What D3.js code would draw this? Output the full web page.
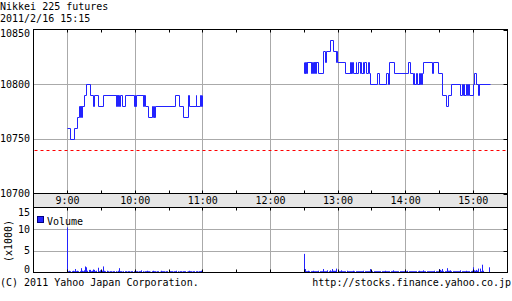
<!DOCTYPE html>
<html>
<head>
<meta charset="utf-8">
<script src="https://cdn.jsdelivr.net/npm/d3@7"></script>
<style>
body { margin: 0; background: #fff; }
svg { display: block; }
text { font-family: "DejaVu Sans Mono", monospace; font-size: 10px; fill: #000; }
</style>
</head>
<body>
<div id="chart"></div>
<script>
// chart data
var titleLines = ["Nikkei 225 futures", "2011/2/16 15:15"];
var footerLeft = "(C) 2011 Yahoo Japan Corporation.";
var footerRight = "http://stocks.finance.yahoo.co.jp";
var priceTicks = [10850, 10800, 10750, 10700];
var volumeTicks = [15, 10, 5, 0];
var prevClose = 10740;
var volumeStart = ["9:00:00", "12:30:00"];

// price change points [time, price]
var morning = [
    ["9:00:00", 10760], ["9:02:45", 10750], ["9:06:30", 10760], ["9:08:30", 10770],
    ["9:10:30", 10780], ["9:11:00", 10770], ["9:11:30", 10780], ["9:12:00", 10770], ["9:12:30", 10780],
    ["9:13:00", 10770], ["9:13:30", 10780],
    ["9:15:00", 10790], ["9:16:30", 10800], ["9:20:30", 10790],
    ["9:23:00", 10780], ["9:24:00", 10790], ["9:27:00", 10780], ["9:31:30", 10790],
    ["9:43:00", 10780], ["9:43:30", 10790], ["9:44:00", 10780], ["9:44:30", 10790], ["9:45:00", 10780],
    ["9:45:30", 10790], ["9:46:00", 10780], ["9:46:30", 10790],
    ["9:49:00", 10780], ["9:51:20", 10790],
    ["9:59:00", 10780], ["10:00:00", 10790], ["10:00:30", 10780], ["10:01:20", 10790],
    ["10:07:10", 10780], ["10:07:40", 10790], ["10:08:10", 10780], ["10:08:40", 10790],
    ["10:09:20", 10780], ["10:11:30", 10770], ["10:15:00", 10780],
    ["10:16:30", 10770], ["10:17:00", 10780], ["10:17:30", 10770], ["10:18:00", 10780],
    ["10:35:20", 10790], ["10:39:00", 10780], ["10:42:40", 10770], ["10:47:00", 10790], ["10:48:00", 10780],
    ["10:54:00", 10790], ["10:54:40", 10780], ["10:58:00", 10790], ["10:59:00", 10780], ["10:59:40", 10790],
    ["11:00:00", 10790]
];
var afternoon = [
    ["12:30:00", 10820], ["12:30:30", 10810], ["12:31:00", 10820], ["12:31:30", 10810], ["12:32:00", 10820],
    ["12:32:30", 10810], ["12:33:00", 10820],
    ["12:36:20", 10810], ["12:36:50", 10820], ["12:37:20", 10810], ["12:37:50", 10820], ["12:38:40", 10810],
    ["12:39:10", 10820], ["12:39:40", 10810], ["12:40:10", 10820], ["12:40:40", 10810], ["12:41:00", 10820],
    ["12:42:30", 10810], ["12:47:00", 10830], ["12:48:30", 10820], ["12:50:00", 10830], ["12:53:00", 10840],
    ["12:56:00", 10830], ["12:58:40", 10820], ["12:59:00", 10830], ["12:59:20", 10820],
    ["13:06:10", 10810], ["13:10:40", 10820], ["13:11:10", 10810], ["13:11:40", 10820], ["13:12:10", 10810],
    ["13:12:50", 10820], ["13:13:20", 10810],
    ["13:16:00", 10820], ["13:16:30", 10810], ["13:18:00", 10820], ["13:19:30", 10810], ["13:20:00", 10820],
    ["13:20:30", 10810], ["13:22:30", 10820], ["13:23:00", 10810], ["13:23:30", 10820], ["13:25:00", 10810],
    ["13:27:00", 10820], ["13:27:30", 10810], ["13:29:00", 10800],
    ["13:34:50", 10810], ["13:36:20", 10800], ["13:42:40", 10810], ["13:44:40", 10800], ["13:45:50", 10820],
    ["13:50:00", 10810], ["14:02:20", 10820], ["14:04:30", 10810],
    ["14:06:50", 10800], ["14:07:30", 10810], ["14:08:00", 10800], ["14:10:00", 10810], ["14:10:30", 10800],
    ["14:12:00", 10810], ["14:12:30", 10800], ["14:13:30", 10810], ["14:14:00", 10800], ["14:15:00", 10810],
    ["14:15:40", 10820], ["14:23:30", 10810], ["14:25:00", 10820], ["14:29:00", 10810],
    ["14:32:40", 10790], ["14:36:40", 10780], ["14:38:10", 10790], ["14:40:50", 10800],
    ["14:48:50", 10790], ["14:50:00", 10800], ["14:51:00", 10790], ["14:52:00", 10800], ["14:52:30", 10790],
    ["14:54:00", 10800], ["14:54:30", 10790], ["14:56:00", 10800], ["14:57:00", 10790], ["15:00:00", 10800],
    ["15:01:30", 10810], ["15:02:30", 10800], ["15:04:30", 10790], ["15:05:30", 10800], ["15:15:00", 10800]
];

// volume per minute (x1000), from 9:00 and from 12:30
var morningVolume = [
    10.4, 0.3, 0.4, 0.3, 0.3, 0.4, 0.3, 0.8, 0.3, 0.4,
    0.3, 0.3, 1.0, 0.4, 0.3, 0.5, 1.4, 1.2, 0.4, 0.6,
    0.6, 0.3, 0.4, 0.7, 0.6, 0.3, 0.4, 1.1, 0.3, 0.5,
    0.3, 0.4, 1.4, 0.4, 0.3, 0.4, 0.3, 0.2, 0.3, 0.3,
    0.2, 0.3, 0.3, 0.3, 0.2, 0.4, 1.0, 0.3, 0.3, 0.2,
    0.3, 0.3, 0.3, 0.2, 0.3, 0.3, 0.2, 0.3, 0.3, 0.3,
    0.4, 0.3, 0.3, 0.2, 0.3, 0.3, 0.5, 0.3, 0.2, 0.3,
    0.3, 0.4, 0.3, 0.3, 0.2, 0.3, 0.4, 0.3, 0.3, 0.2,
    0.3, 0.3, 0.2, 0.4, 0.3, 0.3, 0.3, 0.2, 0.3, 0.3,
    0.2, 0.3, 0.3, 0.3, 0.2, 0.3, 0.3, 0.4, 0.3, 0.2,
    0.3, 0.3, 0.2, 0.3, 0.3, 0.3, 0.2, 0.3, 0.4, 0.3,
    0.3, 0.2, 0.3, 0.3, 0.3, 0.3, 0.2, 0.3, 0.3, 0.4
];
var afternoonVolume = [
    4.3, 0.8, 0.3, 0.3, 0.4, 0.3, 0.3, 0.3, 0.4, 0.3,
    0.3, 0.3, 0.3, 0.4, 0.3, 0.3, 0.3, 0.8, 0.3, 0.3,
    0.3, 0.5, 0.3, 0.5, 0.3, 0.8, 0.4, 0.4, 0.4, 0.9,
    0.3, 0.3, 0.3, 0.5, 0.3, 0.3, 0.3, 0.3, 0.4, 0.3,
    0.3, 0.3, 0.3, 0.3, 0.4, 0.3, 0.3, 0.3, 0.3, 0.3,
    0.3, 0.3, 0.3, 0.4, 0.3, 0.3, 0.3, 0.3, 0.3, 0.8,
    0.3, 0.3, 0.3, 0.3, 0.3, 0.3, 0.3, 0.3, 0.3, 0.3,
    0.3, 0.3, 0.4, 0.3, 0.3, 0.3, 0.3, 0.3, 0.3, 0.5,
    0.3, 0.3, 0.3, 0.3, 0.3, 0.3, 0.3, 0.3, 0.3, 0.3,
    0.3, 0.3, 0.4, 0.3, 0.3, 0.3, 0.3, 0.3, 0.3, 0.3,
    0.3, 0.3, 0.4, 0.3, 0.3, 0.3, 0.5, 0.3, 0.3, 0.3,
    0.3, 0.3, 0.3, 0.3, 0.3, 0.3, 0.4, 0.3, 0.3, 0.3,
    0.8, 0.6, 0.4, 0.8, 0.3, 0.3, 0.3, 1.0, 0.4, 0.4,
    0.5, 0.3, 0.3, 0.3, 0.3, 0.3, 0.3, 0.3, 0.3, 0.5,
    0.3, 0.3, 0.3, 0.3, 0.4, 0.3, 0.3, 0.3, 0.3, 0.4,
    1.2, 0.5, 0.4, 0.6, 0.4, 0.9, 0.9, 0.3, 1.8, 0.4,
    0, 0, 0, 0, 1.2, 0
];

var blue = "#2222ff";
var gridColor = "#aaaaaa";

var parseTime = d3.timeParse("%H:%M:%S");
var fmtHour = d3.timeFormat("%-H:%M");

function drawChart() {

    var width = 512, height = 301;
    var left = 33.5, right = 507.5;
    var pTop = 29.5, pBottom = 193.5;
    var bandBottom = 207.5;
    var vTop = 207.5, vBottom = 272.5;

    var svg = d3.select("#chart").append("svg")
        .attr("width", width)
        .attr("height", height);

    var x = d3.scaleTime()
        .domain([parseTime("8:30:00"), parseTime("15:30:00")])
        .range([33.8, 507.1]);
    var y = d3.scaleLinear().domain([10700, 10850]).range([pBottom, pTop]);
    var yv = d3.scaleLinear().domain([0, 15]).range([vBottom, vTop]);

    var px = function(t) { return Math.floor(x(t)) + 0.5; };
    var hours = x.ticks(d3.timeHour.every(1)).filter(function(t) { return t > x.domain()[0]; });
    var halfHours = x.ticks(d3.timeMinute.every(30)).filter(function(t) {
        return t > x.domain()[0] && t < x.domain()[1];
    });

    // titles
    svg.selectAll("text.title")
        .data(titleLines)
        .join("text")
        .attr("class", "title")
        .attr("x", 0)
        .attr("y", function(d, i) { return 10 + i * 12; })
        .text(function(d) { return d; });

    // price gridlines
    svg.append("g")
        .selectAll("line")
        .data(priceTicks.filter(function(v) { return v != 10850 && v != 10700; }))
        .join("line")
        .attr("x1", left).attr("x2", right)
        .attr("y1", function(d) { return Math.round(y(d)) + 0.5; })
        .attr("y2", function(d) { return Math.round(y(d)) + 0.5; })
        .attr("stroke", gridColor);

    svg.append("g")
        .selectAll("line")
        .data(hours)
        .join("line")
        .attr("x1", px).attr("x2", px)
        .attr("y1", pTop).attr("y2", pBottom)
        .attr("stroke", gridColor);

    // volume gridlines
    svg.append("g")
        .selectAll("line")
        .data([5, 10])
        .join("line")
        .attr("x1", left).attr("x2", right)
        .attr("y1", function(d) { return Math.round(yv(d)) + 0.5; })
        .attr("y2", function(d) { return Math.round(yv(d)) + 0.5; })
        .attr("stroke", gridColor);

    svg.append("g")
        .selectAll("line")
        .data(hours)
        .join("line")
        .attr("x1", px).attr("x2", px)
        .attr("y1", vTop).attr("y2", vBottom)
        .attr("stroke", gridColor);

    // previous close
    svg.append("line")
        .attr("x1", left + 1).attr("x2", right)
        .attr("y1", Math.round(y(prevClose)) + 0.5)
        .attr("y2", Math.round(y(prevClose)) + 0.5)
        .attr("stroke", "#ff0000")
        .attr("stroke-dasharray", "3,3");

    // price line, one path per session
    var line = d3.line()
        .x(function(d) { return px(parseTime(d[0])); })
        .y(function(d) { return Math.round(y(d[1])) + 0.5; })
        .curve(d3.curveStepAfter);

    svg.append("g")
        .selectAll("path")
        .data([morning, afternoon])
        .join("path")
        .attr("d", line)
        .attr("fill", "none")
        .attr("stroke", blue)
        .attr("stroke-width", 1);

    // volume bars
    var bars = [];
    [morningVolume, afternoonVolume].forEach(function(arr, k) {
        var start = parseTime(volumeStart[k]);
        arr.forEach(function(v, i) {
            bars.push({t: d3.timeMinute.offset(start, i), v: v});
        });
    });

    svg.append("g")
        .selectAll("rect")
        .data(bars.filter(function(d) { return d.v > 0; }))
        .join("rect")
        .attr("x", function(d) { return Math.floor(x(d.t)); })
        .attr("width", 1)
        .attr("y", function(d) { return yv(d.v); })
        .attr("height", function(d) { return yv(0) - yv(d.v); })
        .attr("fill", blue);

    // time band
    svg.append("rect")
        .attr("x", left).attr("y", pBottom)
        .attr("width", right - left).attr("height", bandBottom - pBottom)
        .attr("fill", "#e6e6e6");

    svg.append("g")
        .selectAll("text")
        .data(hours)
        .join("text")
        .attr("x", function(d) { return x(d); })
        .attr("y", 204)
        .attr("text-anchor", "middle")
        .text(fmtHour);

    // frames
    var frame = svg.append("g").attr("fill", "none").attr("stroke", "#000");
    frame.append("rect").attr("x", left).attr("y", pTop).attr("width", right - left).attr("height", pBottom - pTop);
    frame.append("rect").attr("x", left).attr("y", pBottom).attr("width", right - left).attr("height", bandBottom - pBottom);
    frame.append("rect").attr("x", left).attr("y", vTop).attr("width", right - left).attr("height", vBottom - vTop);

    // small ticks on the frames
    var ticks = svg.append("g").attr("stroke", "#000");
    halfHours.forEach(function(t) {
        ticks.append("line").attr("x1", px(t)).attr("x2", px(t)).attr("y1", pTop).attr("y2", pTop + 3);
        ticks.append("line").attr("x1", px(t)).attr("x2", px(t)).attr("y1", pBottom - 3).attr("y2", pBottom);
        ticks.append("line").attr("x1", px(t)).attr("x2", px(t)).attr("y1", bandBottom).attr("y2", bandBottom + 3);
        ticks.append("line").attr("x1", px(t)).attr("x2", px(t)).attr("y1", vBottom - 3).attr("y2", vBottom);
    });
    priceTicks.forEach(function(v) {
        var yy = Math.round(y(v)) + 0.5;
        ticks.append("line").attr("x1", right - 4).attr("x2", right).attr("y1", yy).attr("y2", yy);
    });
    [5, 10].forEach(function(v) {
        var yy = Math.round(yv(v)) + 0.5;
        ticks.append("line").attr("x1", right - 4).attr("x2", right).attr("y1", yy).attr("y2", yy);
    });

    // y labels
    svg.append("g")
        .selectAll("text")
        .data(priceTicks)
        .join("text")
        .attr("x", 30)
        .attr("y", function(d) { return Math.max(y(d), 33) + 3.5; })
        .attr("text-anchor", "end")
        .text(function(d) { return d; });

    svg.append("g")
        .selectAll("text")
        .data(volumeTicks)
        .join("text")
        .attr("x", 30)
        .attr("y", function(d) { return Math.min(Math.max(yv(d), 212), 269.5) + 3.5; })
        .attr("text-anchor", "end")
        .text(function(d) { return d; });

    svg.append("text")
        .attr("transform", "translate(12,241) rotate(-90)")
        .attr("text-anchor", "middle")
        .text("(x1000)");

    // legend
    svg.append("rect")
        .attr("x", 37.5).attr("y", 216.5)
        .attr("width", 6).attr("height", 6)
        .attr("fill", blue)
        .attr("stroke", "#000080");
    svg.append("text").attr("x", 47).attr("y", 225).text("Volume");

    // footer
    svg.append("text").attr("x", 0).attr("y", 286).text(footerLeft);
    svg.append("text").attr("x", 511).attr("y", 286).attr("text-anchor", "end").text(footerRight);

}

drawChart();
</script>
</body>
</html>
